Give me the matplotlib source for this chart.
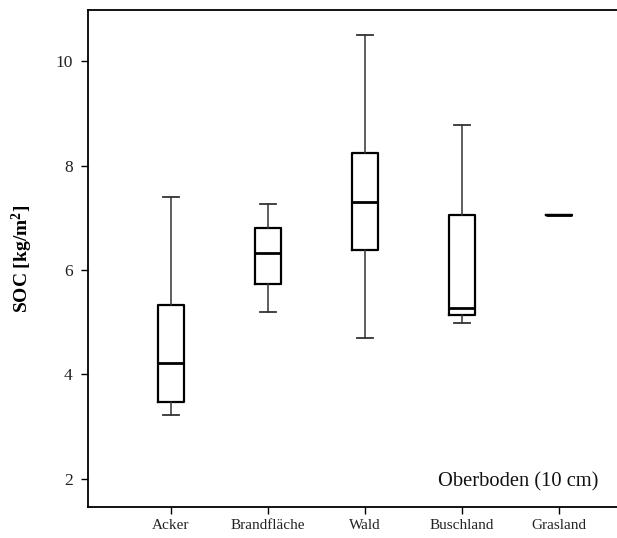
import matplotlib
matplotlib.use("Agg")
from matplotlib import pyplot as plt

categories = ["Acker", "Brandfläche", "Wald", "Buschland", "Grasland"]
whisker_low = [3.22, 5.20, 4.70, 4.98, 7.06]
q1 = [3.47, 5.74, 6.39, 5.14, 7.06]
median = [4.22, 6.33, 7.31, 5.27, 7.06]
q3 = [5.33, 6.81, 8.25, 7.05, 7.06]
whisker_high = [7.40, 7.27, 10.51, 8.78, 7.06]

plt.rcParams['font.family'] = ['Liberation Serif', 'DejaVu Serif']
plt.rcParams['mathtext.fontset'] = 'custom'
plt.rcParams['mathtext.rm'] = 'Liberation Serif'
plt.rcParams['mathtext.bf'] = 'Liberation Serif:bold'

stats = []
for i, name in enumerate(categories):
    stats.append({"label": name, "whislo": whisker_low[i], "q1": q1[i], "med": median[i],
                  "q3": q3[i], "whishi": whisker_high[i], "fliers": []})

fig = plt.figure(figsize=(6.17, 5.38), dpi=100)
ax = fig.add_axes([88/617, 31/538, 529/617, 497/538])

ax.bxp(stats, positions=range(1, 6), widths=0.27, showfliers=False,
       boxprops=dict(color="black", linewidth=1.6),
       medianprops=dict(color="black", linewidth=2.0),
       whiskerprops=dict(color="#333333", linewidth=1.1),
       capprops=dict(color="#333333", linewidth=1.3),
       capwidths=0.165)

ax.set_xlim(0.144, 5.6)
ax.set_ylim(1.46, 10.98)
ax.set_yticks([2, 4, 6, 8, 10])
ax.set_xticks(range(1, 6))
ax.set_xticklabels(categories)
ax.spines['right'].set_visible(False)
for s in ['left', 'bottom', 'top']:
    ax.spines[s].set_linewidth(1.3)
ax.tick_params(axis='both', direction='out', length=5, width=1, labelcolor="#222222")
ax.tick_params(axis='x', labelsize=11)
ax.tick_params(axis='y', labelsize=12.5, pad=6)
ax.set_ylabel("SOC [kg/m$\\mathbf{^2}$]", fontsize=14, fontweight='bold', labelpad=15)
ax.text(0.965, 0.032, "Oberboden (10 cm)", transform=ax.transAxes, ha='right',
        va='bottom', fontsize=14.8, color="#111111")

fig.savefig("out.png", dpi=100)
